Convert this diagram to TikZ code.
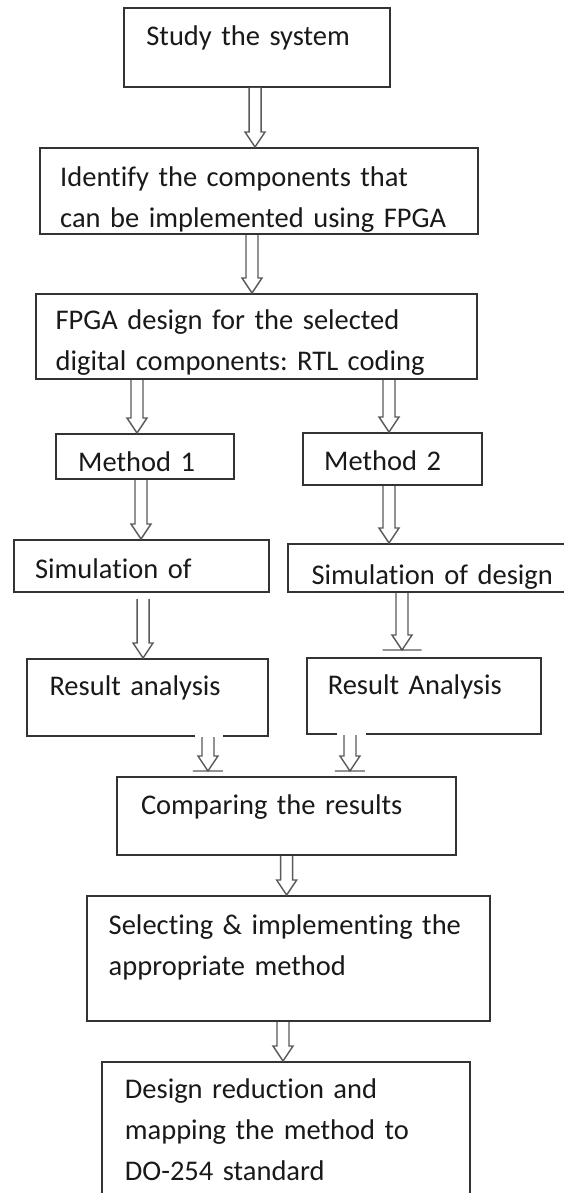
\documentclass[tikz,border=0pt]{standalone}
\usepackage{fontspec}
\setmainfont{Carlito}[Ligatures=NoCommon]
\usetikzlibrary{calc}
\frenchspacing

\begin{document}
\begin{tikzpicture}[x=0.5pt,y=-0.5pt]
\tikzset{
  flowbox/.style={draw=black!80,line width=1pt,anchor=north west,inner ysep=0pt,align=left,
    text=black!90,font=\fontsize{14.25}{20.5}\selectfont},
  blockarrow/.style={draw=black!65,line width=0.7pt,fill=white,
    to path={let \p1=(\tikztostart), \p2=(\tikztotarget) in
      (\x1-3pt,\y1) -- (\x1-3pt,\y2+7.5pt) -- (\x1-5pt,\y2+7.5pt) -- (\x1,\y2)
      -- (\x1+5pt,\y2+7.5pt) -- (\x1+3pt,\y2+7.5pt) -- (\x1+3pt,\y1)}},
  barredarrow/.style={blockarrow,
    to path={let \p1=(\tikztostart), \p2=(\tikztotarget) in
      (\x1-3pt,\y1) -- (\x1-3pt,\y2+7.5pt) -- (\x1-5pt,\y2+7.5pt) -- (\x1,\y2)
      -- (\x1+5pt,\y2+7.5pt) -- (\x1+3pt,\y2+7.5pt) -- (\x1+3pt,\y1)
      (\x1-#1,\y2) -- (\x1+#1,\y2)}},
  gapline/.style={draw=white,line width=2pt}
}
\useasboundingbox (0,0) rectangle (563,1193);
\node[flowbox,inner xsep=11.3pt,text width=110.45pt,text height=19pt,text depth=20.5pt] (n_study) at (122.8,7) {Study the system};
\node[flowbox,inner xsep=10.2pt,text width=198.6pt,text height=19pt,text depth=24pt] (n_ident) at (38.8,147) {Identify the components that\\can be implemented using FPGA};
\node[flowbox,inner xsep=9.9pt,text width=200.7pt,text height=17.5pt,text depth=25pt] (n_fpga) at (34.8,293) {FPGA design for the selected\\digital components: RTL coding};
\node[flowbox,inner xsep=11.3pt,text width=66.8pt,text height=18.5pt,text depth=4pt] (n_m1) at (54.6,433) {Method 1};
\node[flowbox,inner xsep=10.45pt,text width=68.5pt,text height=18.5pt,text depth=7.5pt] (n_m2) at (302.3,432) {Method 2};
\node[flowbox,inner xsep=10.75pt,text width=105.95pt,text height=19pt,text depth=7pt] (n_sim1) at (12.6,539) {Simulation of};
\node[flowbox,inner xsep=11.65pt,text width=133.05pt,text height=20pt,text depth=4pt] (n_sim2) at (287.3,543) {Simulation of design};
\node[flowbox,inner xsep=11.3pt,text width=97.85pt,text height=18pt,text depth=20.5pt] (n_res1) at (25.9,658) {Result analysis};
\node[flowbox,inner xsep=10.25pt,text width=96.55pt,text height=18pt,text depth=20pt] (n_res2) at (306.3,657) {Result Analysis};
\node[flowbox,inner xsep=12pt,text width=145.65pt,text height=18.5pt,text depth=20.5pt] (n_cmp) at (116,776) {Comparing the results};
\node[flowbox,inner xsep=10.75pt,text width=179.9pt,text height=19pt,text depth=43.5pt] (n_sel) at (86.2,895) {Selecting \& implementing the\\appropriate method};
\node[flowbox,inner xsep=11.7pt,text width=160.85pt,text height=18pt,text depth=75pt] (n_dsn) at (100.5,1061) {Design reduction and\\mapping the method to\\DO-254 standard};
\draw[gapline] ([xshift=23.8pt]n_res1.south) -- ++(14pt,0);
\draw[gapline] ([xshift=-43.7pt]n_res2.south) -- ++(14.5pt,0);
\draw[blockarrow] ([xshift=-0.9pt]n_study.south) to (n_ident.north);
\draw[blockarrow] ([xshift=-3.4pt]n_ident.south) to (n_fpga.north);
\draw[blockarrow] ([xshift=-4pt]n_m1.north |- n_fpga.south) to (n_m1.north);
\draw[blockarrow] ([xshift=-1.85pt]n_m2.north |- n_fpga.south) to (n_m2.north);
\draw[blockarrow] ([xshift=-2pt]n_m1.south) to (n_sim1.north);
\draw[blockarrow] ([xshift=-1.85pt]n_m2.south) to (n_sim2.north);
\draw[blockarrow] ([xshift=1pt,yshift=-3pt]n_sim1.south) to (n_res1.north);
\draw[barredarrow=9.75pt] ([xshift=57.35pt]n_sim2.south west) to ([yshift=3.5pt]n_res2.north);
\draw[barredarrow=7.5pt] ([xshift=30.3pt]n_res1.south) to ([yshift=2.5pt]n_cmp.north);
\draw[barredarrow=7.5pt] ([xshift=-37.2pt]n_res2.south) to ([yshift=2.5pt]n_cmp.north);
\draw[blockarrow] (n_cmp.south) to (n_sel.north);
\draw[blockarrow] ([xshift=-2.8pt]n_sel.south) to (n_dsn.north);
\end{tikzpicture}
\end{document}
